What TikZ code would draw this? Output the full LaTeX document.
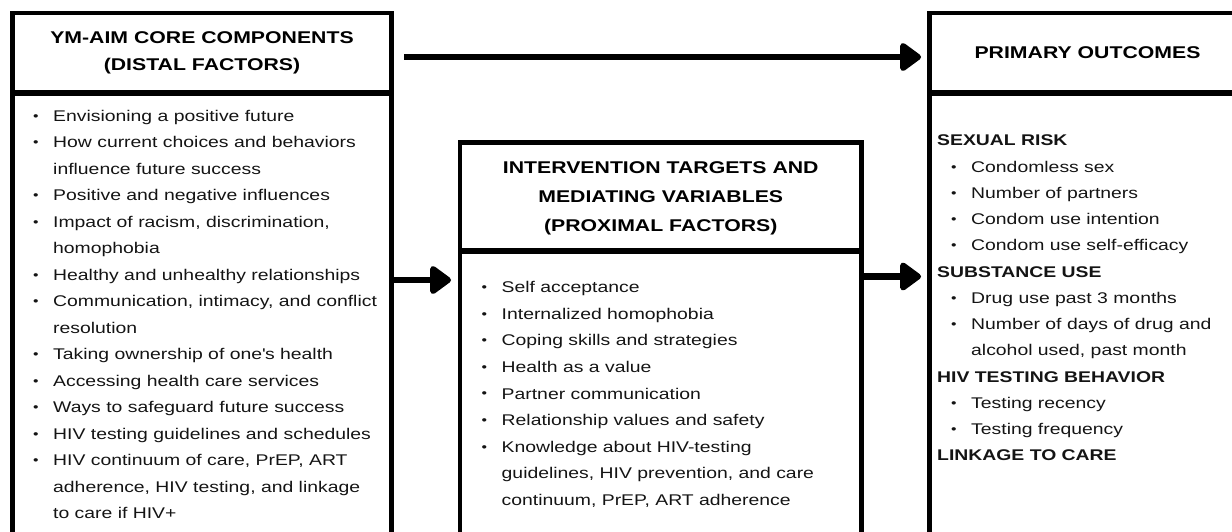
\documentclass[tikz,border=0pt]{standalone}
\usepackage{fontspec}
\setmainfont{Liberation Sans}[FakeStretch=1.25]
\usetikzlibrary{arrows.meta, positioning}

\newcommand{\itembul}{\strut\makebox[20pt][l]{\raisebox{1.2pt}{\fontsize{12.5}{12.5}\selectfont\textbullet}}}
\newcommand{\contline}{\strut\hspace*{20pt}}
\newcommand{\subitembul}{\strut\hspace*{14pt}\itembul}
\newcommand{\grouphead}[1]{\strut\textbf{#1}}

\tikzset{
  panel/.style={draw, line width=4.5pt, outer sep=0pt, inner sep=0pt},
  headbox/.style={panel, align=center, font=\bfseries\fontsize{17}{26.8}\selectfont},
  flow/.style={line width=6.5pt, -{Triangle[length=23pt,width=32pt,round]}},
  itemtext/.style={anchor=north west, inner sep=0pt, align=left, text=black!92,
                   font=\fontsize{15.5}{#1}\selectfont},
}

\begin{document}
\begin{tikzpicture}[x=1pt,y=-1pt]
  \useasboundingbox (0,0) rectangle (1232,531);
  \clip (0,0) rectangle (1232,531);

  % distal factors
  \node[headbox, minimum width=379pt, minimum height=79.5pt] (distalhead) at (202,52.75)
    {YM-AIM CORE COMPONENTS\\(DISTAL FACTORS)};
  \node[panel, minimum width=379pt, minimum height=500pt, below=1pt of distalhead] (distalbody) {};

  % proximal factors
  \node[headbox, font=\bfseries\fontsize{17}{29.3}\selectfont,
        minimum width=401.5pt, minimum height=108pt, text depth=0pt] (proxhead) at (660.75,196.5)
    {INTERVENTION TARGETS AND\\MEDIATING VARIABLES\\(PROXIMAL FACTORS)};
  \node[panel, minimum width=401.5pt, minimum height=400pt, below=1pt of proxhead] (proxbody) {};

  % outcomes
  \node[headbox, minimum width=316pt, minimum height=79.5pt] (outhead) at (1087.5,52.75)
    {PRIMARY OUTCOMES};
  \node[panel, minimum width=316pt, minimum height=500pt, below=1pt of outhead] (outbody) {};

  \node[itemtext=26.5pt] (distallist) at (33,102.45) {%
    \itembul Envisioning a positive future\\
    \itembul How current choices and behaviors\\
    \contline influence future success\\
    \itembul Positive and negative influences\\
    \itembul Impact of racism, discrimination,\\
    \contline homophobia\\
    \itembul Healthy and unhealthy relationships\\
    \itembul Communication, intimacy, and conflict\\
    \contline resolution\\
    \itembul Taking ownership of one\textquotesingle s health\\
    \itembul Accessing health care services\\
    \itembul Ways to safeguard future success\\
    \itembul HIV testing guidelines and schedules\\
    \itembul HIV continuum of care, PrEP, ART\\
    \contline adherence, HIV testing, and linkage\\
    \contline to care if HIV+};

  \node[itemtext=26.6pt] (proxlist) at (481.5,273.9) {%
    \itembul Self acceptance\\
    \itembul Internalized homophobia\\
    \itembul Coping skills and strategies\\
    \itembul Health as a value\\
    \itembul Partner communication\\
    \itembul Relationship values and safety\\
    \itembul Knowledge about HIV-testing\\
    \contline guidelines, HIV prevention, and care\\
    \contline continuum, PrEP, ART adherence};

  \node[itemtext=26.25pt] (outlist) at (937,127.4) {%
    \grouphead{SEXUAL RISK}\\
    \subitembul Condomless sex\\
    \subitembul Number of partners\\
    \subitembul Condom use intention\\
    \subitembul Condom use self-efficacy\\
    \grouphead{SUBSTANCE USE}\\
    \subitembul Drug use past 3 months\\
    \subitembul Number of days of drug and\\
    \hspace*{14pt}\contline alcohol used, past month\\
    \grouphead{HIV TESTING BEHAVIOR}\\
    \subitembul Testing recency\\
    \subitembul Testing frequency\\
    \grouphead{LINKAGE TO CARE}};

  % arrows between the columns
  \coordinate (inrow) at (0,280);
  \coordinate (outrow) at (0,276.5);
  \draw[flow, shorten <=12.5pt, shorten >=8.5pt]
    ([yshift=-4.25pt]distalhead.east) -- ([yshift=-4.25pt]outhead.west);
  \draw[flow, shorten >=9pt] (distalbody.east |- inrow) -- (proxbody.west |- inrow);
  \draw[flow, shorten >=8.5pt] (proxbody.east |- outrow) -- (outbody.west |- outrow);
\end{tikzpicture}
\end{document}
